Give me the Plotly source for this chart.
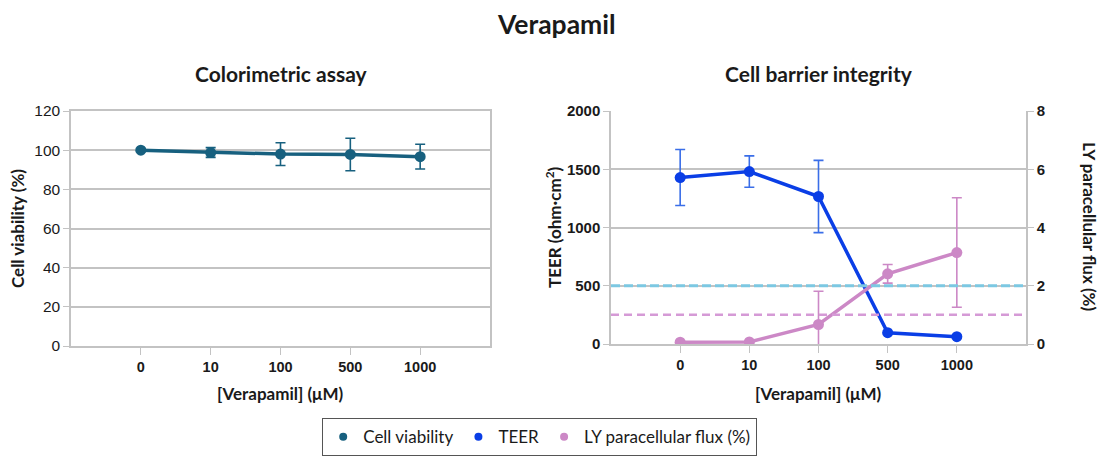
import plotly.graph_objects as go

# data
doses = ["0", "10", "100", "500", "1000"]

viability = [100, 98.8, 98.0, 97.8, 96.7]
viability_err = [0.8, 2.5, 5.8, 8.3, 6.3]

teer = [1429, 1480, 1266, 97, 63]
teer_err = [240, 135, 310, 0, 0]

ly_flux = [0.06, 0.07, 0.67, 2.41, 3.14]
ly_flux_err = [0.0, 0.0, 1.14, 0.32, 1.88]

teer_threshold = 500
ly_threshold = 1.0

c_via = "#17607f"
c_teer = "#0a3ee6"
c_ly = "#cc88c6"
grid = "#c3c3c3"
font = "Liberation Sans"
tfont = "Lato"
ink = "#1a1a1a"

W, H = 1113, 462
OFF = 8  # the page body margin shifts the figure by 8px


def px(x):
    return (x - OFF) / W


def py(y):
    return 1 - (y - OFF) / H


fig = go.Figure()

fig.add_trace(go.Scatter(
    x=doses, y=viability, xaxis="x", yaxis="y", mode="lines+markers",
    line=dict(color=c_via, width=3.5), marker=dict(size=11, color=c_via),
    error_y=dict(type="data", array=viability_err, color=c_via, thickness=1.6, width=5),
    showlegend=False))

fig.add_trace(go.Scatter(
    x=doses, y=teer, xaxis="x2", yaxis="y2", mode="lines+markers",
    line=dict(color=c_teer, width=3.5), marker=dict(size=11, color=c_teer),
    error_y=dict(type="data", array=teer_err, color="#3a6ee8", thickness=1.6, width=5),
    showlegend=False))

fig.add_trace(go.Scatter(
    x=doses, y=ly_flux, xaxis="x2", yaxis="y3", mode="lines+markers",
    line=dict(color=c_ly, width=3.5), marker=dict(size=11, color=c_ly),
    error_y=dict(type="data", array=ly_flux_err, color=c_ly, thickness=1.6, width=5),
    showlegend=False))

# legend entries: dots only
for name, col in [("Cell viability", c_via), ("TEER", c_teer), ("LY paracellular flux (%)", c_ly)]:
    fig.add_trace(go.Scatter(x=[None], y=[None], mode="markers", name=name,
                             marker=dict(size=8, color=col), xaxis="x2", yaxis="y2"))

# threshold lines
fig.add_shape(type="line", xref="x2 domain", yref="y2", x0=0, x1=1,
              y0=teer_threshold, y1=teer_threshold,
              line=dict(color="#7cc8e2", width=3, dash="9px,4px"))
fig.add_shape(type="line", xref="x2 domain", yref="y3", x0=0, x1=1,
              y0=ly_threshold, y1=ly_threshold,
              line=dict(color="#d59ad6", width=2.5, dash="8px,5px"))

xcommon = dict(type="category", range=[-1, 5], showline=True, linecolor=grid, linewidth=1.5,
               ticks="outside", tickcolor=grid, ticklen=7, showgrid=False, automargin=False,
               tickfont=dict(family=font, size=14.5, color=ink, weight="bold"))

ycommon = dict(showline=True, linecolor=grid, linewidth=1.5, ticks="outside", tickcolor=grid,
               ticklen=6, showgrid=True, gridcolor=grid, gridwidth=1.5, zeroline=False,
               automargin=False)


def label(text, x, y, size=17, angle=0):
    return dict(text=text, x=px(x), y=py(y), xref="paper", yref="paper",
                showarrow=False, textangle=angle, xanchor="center", yanchor="middle",
                borderpad=0,
                font=dict(family=tfont, size=size, color=ink, weight="bold"))


fig.update_layout(
    width=W, height=H,
    margin=dict(l=0, r=0, t=0, b=0, autoexpand=False),
    plot_bgcolor="white", paper_bgcolor="white",
    xaxis=dict(domain=[px(71), px(490)], anchor="y", mirror=True, **xcommon),
    yaxis=dict(domain=[py(346), py(111)], anchor="x", range=[0, 120], dtick=20,
               mirror=True, tickfont=dict(family=font, size=15.5, color=ink), **ycommon),
    xaxis2=dict(domain=[px(611), px(1026)], anchor="y2", **xcommon),
    yaxis2=dict(domain=[py(344), py(111)], anchor="x2", range=[0, 2000], dtick=500,
                tickfont=dict(family=font, size=15, color=ink, weight="bold"), **ycommon),
    yaxis3=dict(overlaying="y2", anchor="x2", side="right", range=[0, 8], dtick=2,
                showline=True, linecolor=grid, linewidth=1.5, ticks="outside", tickcolor=grid,
                ticklen=6, showgrid=False, zeroline=False, automargin=False,
                tickfont=dict(family=font, size=15, color=ink, weight="bold")),
    legend=dict(orientation="h", x=px(539.5), y=py(437), xanchor="center",
                yanchor="middle", bordercolor="#555", borderwidth=1.2, bgcolor="white",
                font=dict(family=tfont, size=17, color=ink),
                itemwidth=30, tracegroupgap=0),
    annotations=[
        label("Verapamil", 556, 24, size=26.5),
        label("Colorimetric assay", 281, 74, size=21),
        label("Cell barrier integrity", 819, 74, size=21),
        label("[Verapamil] (μM)", 280, 393),
        label("[Verapamil] (μM)", 818, 393),
        label("Cell viability (%)", 18, 229, angle=-90),
        label("TEER (ohm·cm<sup>2</sup>)", 553, 227, angle=-90),
        label("LY paracellular flux (%)", 1090, 227, angle=90),
    ],
)

fig.write_html("out.html")
